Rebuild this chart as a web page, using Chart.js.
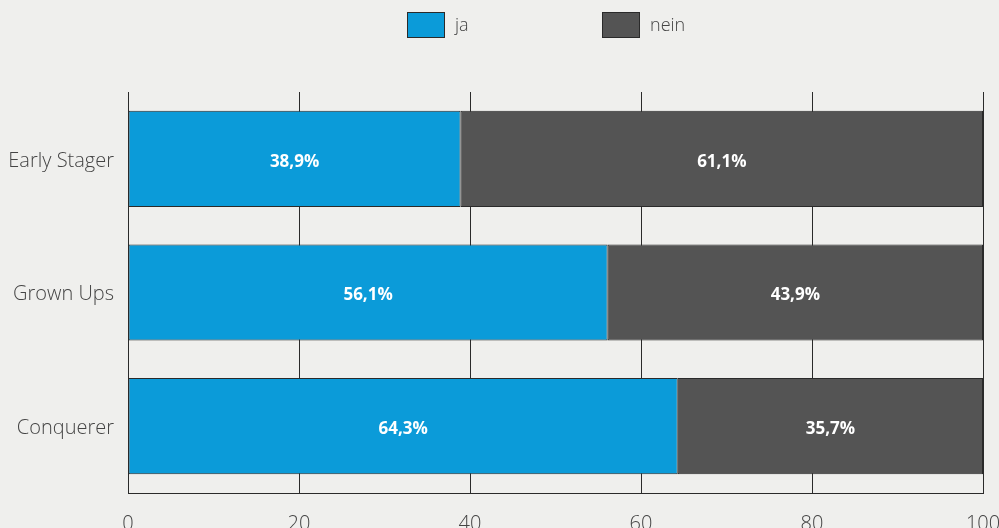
<!DOCTYPE html>
<html>
<head>
<meta charset="utf-8">
<script src="https://cdn.jsdelivr.net/npm/chart.js@4.4.1/dist/chart.umd.min.js"></script>
<style>
  html, body { margin: 0; padding: 0; background: #efefed; overflow: hidden; }
  #wrap { width: 999px; height: 528px; }
</style>
</head>
<body>
<div id="wrap"><canvas id="myChart" width="999" height="528"></canvas></div>
<script>
const categories = ['Early Stager', 'Grown Ups', 'Conquerer']
const jaValues = [38.9, 56.1, 64.3]
const neinValues = [61.1, 43.9, 35.7]
const seriesNames = ['ja', 'nein']
const seriesColors = ['#0b9bd9', '#545454']
const xTicks = [0, 20, 40, 60, 80, 100]

const fontFam = '"Open Sans", "DejaVu Sans", sans-serif'
const lineCol = '#2a2a2a'

// legende dessinee a la main (ecart large entre les items)
const legendPlugin = {
  id: 'myLegend',
  afterDraw(chart) {
    const ctx = chart.ctx
    const xs = [407, 602]
    ctx.save()
    ctx.font = '300 18px ' + fontFam
    ctx.textBaseline = 'middle'
    ctx.textAlign = 'left'
    seriesNames.forEach((name, i) => {
      ctx.fillStyle = seriesColors[i]
      ctx.fillRect(xs[i], 12, 38, 26)
      ctx.strokeStyle = lineCol
      ctx.lineWidth = 1
      ctx.strokeRect(xs[i] + 0.5, 12.5, 37, 25)
      ctx.fillStyle = '#444444'
      ctx.fillText(name, xs[i] + 48, 26)
    })
    ctx.restore()
  }
}

// les pourcentages dans les barres
const labelPlugin = {
  id: 'barLabels',
  afterDatasetsDraw(chart) {
    const ctx = chart.ctx
    ctx.save()
    ctx.font = 'bold 17px ' + fontFam
    ctx.fillStyle = '#ffffff'
    ctx.textAlign = 'center'
    ctx.textBaseline = 'middle'
    chart.data.datasets.forEach((ds, i) => {
      const meta = chart.getDatasetMeta(i)
      meta.data.forEach((bar, j) => {
        const p = bar.getProps(['x', 'y', 'base'], true)
        const txt = ds.data[j].toFixed(1).replace('.', ',') + '%'
        ctx.fillText(txt, (p.x + p.base) / 2, p.y + 3)
      })
    })
    ctx.restore()
  }
}

var data = {
  labels: categories,
  datasets: [
    {
      label: seriesNames[0],
      data: jaValues,
      backgroundColor: seriesColors[0],
      borderColor: lineCol,
      borderWidth: 1,
      borderSkipped: false
    },
    {
      label: seriesNames[1],
      data: neinValues,
      backgroundColor: seriesColors[1],
      borderColor: lineCol,
      borderWidth: 1,
      borderSkipped: false
    }
  ]
}

var config = {
  type: 'bar',
  data: data,
  options: {
    indexAxis: 'y',
    responsive: false,
    animation: false,
    layout: { padding: { top: 92, right: 0, left: 0, bottom: 0 } },
    plugins: {
      legend: { display: false },
      tooltip: { enabled: false }
    },
    scales: {
      x: {
        stacked: true,
        min: 0,
        max: 100,
        afterBuildTicks: (scale) => { scale.ticks = xTicks.map(v => ({ value: v })) },
        afterFit: (scale) => {
          scale.height = 35
          scale.paddingLeft = 0
          scale.paddingRight = 16
        },
        grid: { color: lineCol, lineWidth: 1, drawTicks: false },
        border: { display: true, color: lineCol, width: 1 },
        ticks: {
          padding: 19,
          maxRotation: 0,
          color: '#444444',
          font: { family: fontFam, size: 20, weight: 300 }
        }
      },
      y: {
        stacked: true,
        afterFit: (scale) => { scale.width = 128 },
        grid: { display: false, drawTicks: false },
        border: { display: true, color: lineCol, width: 1 },
        ticks: {
          padding: 14,
          labelOffset: 2,
          color: '#444444',
          font: { family: fontFam, size: 20, weight: 300 }
        }
      }
    }
  },
  plugins: [labelPlugin, legendPlugin]
}

const ctx = document.getElementById('myChart')
var bars = new Chart(ctx, config)
</script>
</body>
</html>
